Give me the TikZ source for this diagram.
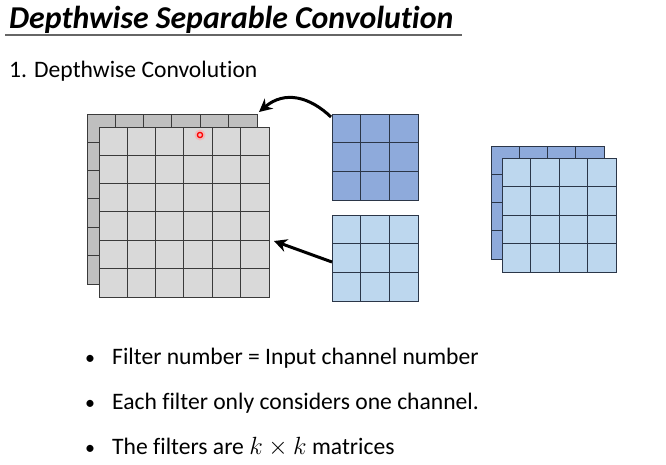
\documentclass[tikz,border=0pt]{standalone}
\usepackage{fontspec}
\setmainfont{Carlito}[Ligatures=NoCommon]
\usetikzlibrary{arrows.meta}
\definecolor{gridline}{HTML}{3A3A3A}
\definecolor{bluegridline}{HTML}{2B3648}
\definecolor{graydark}{HTML}{BFBFBF}
\definecolor{graylight}{HTML}{D9D9D9}
\definecolor{bluedark}{HTML}{8EAADB}
\definecolor{bluelight}{HTML}{BDD7EE}
\newcommand\cellgrid[7]{%
  \node[draw=#7, fill=#6, line width=1pt, inner sep=0pt, anchor=north west,
        minimum width={#4*#5*1pt}, minimum height={#4*#5*1pt}] (#1) at (#2,#3) {};
  \foreach \i in {1,...,\numexpr#4-1\relax}{
    \draw[#7, line width=1pt] (#1.north west) ++(\i*#5,0) -- ++(0,#4*#5);
    \draw[#7, line width=1pt] (#1.north west) ++(0,\i*#5) -- ++(#4*#5,0);
  }
}
\begin{document}
\begin{tikzpicture}[x=1pt,y=-1pt,
  conn/.style={line width=3pt, -{Stealth[length=13pt,width=13pt]}},
  bullettext/.style={anchor=base west, inner sep=0pt, font=\fontsize{23.6}{27}\selectfont},
  bulletdot/.style={anchor=base, inner sep=0pt, font=\fontsize{20}{24}\selectfont}]
\useasboundingbox (0,0) rectangle (666,464);
\node[anchor=base west, inner sep=0pt, font=\fontsize{31.8}{34}\selectfont\bfseries\itshape] (title) at (9,28) {Depthwise Separable Convolution};
\coordinate (ul1) at (5,35);
\coordinate (ul2) at (462,35);
\draw[gray!80!black, line width=1.5pt] (ul1) -- (ul2);
\node[anchor=base west, inner sep=0pt, font=\fontsize{23.6}{27}\selectfont] (sub) at (9,77) {1. Depthwise Convolution};
\cellgrid{inback}{87}{114}{6}{28.33}{graydark}{gridline}
\cellgrid{infront}{99}{127}{6}{28.33}{graylight}{gridline}
\fill[red!35, opacity=0.6] (200,135) circle (5.5);
\draw[red, line width=1.3pt] (200,135) circle (2.6);
\cellgrid{kone}{332}{114}{3}{28.5}{bluedark}{bluegridline}
\cellgrid{ktwo}{332}{215}{3}{28.5}{bluelight}{bluegridline}
\cellgrid{outback}{491}{146}{4}{28.25}{bluedark}{bluegridline}
\cellgrid{outfront}{502}{158}{4}{28.5}{bluelight}{bluegridline}
\coordinate (a1s) at (331,117);
\coordinate (a1e) at (259,112);
\coordinate (a2s) at (332,262);
\coordinate (a2e) at (274,241);
\draw[conn] (a1s) .. controls (310,97) and (285,90) .. (a1e);
\draw[conn] (a2s) -- (a2e);
\node[bulletdot] (b1) at (90,364) {\textbullet};
\node[bullettext] (t1) at (112,364) {Filter number = Input channel number};
\node[bulletdot] (b2) at (90,409) {\textbullet};
\node[bullettext] (t2) at (112,409) {Each filter only considers one channel.};
\node[bulletdot] (b3) at (90,454) {\textbullet};
\node[bullettext] (t3) at (112,454) {The filters are $k \times k$ matrices};
\end{tikzpicture}
\end{document}
